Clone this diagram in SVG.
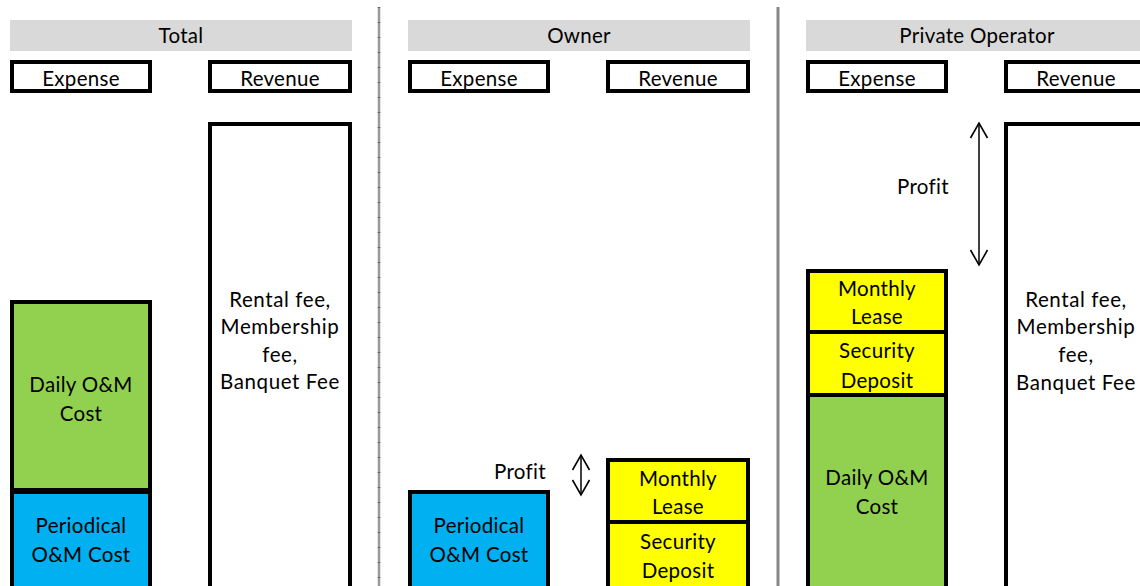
<svg xmlns="http://www.w3.org/2000/svg" width="1140" height="586" viewBox="0 0 1140 586">
<defs>
<style>
.hdr{fill:#d9d9d9}
.box{stroke:#000;stroke-width:4}
.w{fill:#fff}
.g{fill:#92d050}
.b{fill:#00b0f0}
.y{fill:#ffff00}
text{font-family:Lato,"Liberation Sans",sans-serif;font-size:20.5px;fill:#000;text-anchor:middle;letter-spacing:0.3px}
.h{font-size:20.5px}
.sp{letter-spacing:0.6px}
.arr{stroke:#000;stroke-width:1.5;fill:none;marker-start:url(#ah);marker-end:url(#ah)}
</style>
<marker id="ah" viewBox="0 0 18 20" refX="16" refY="10" markerWidth="18" markerHeight="20" markerUnits="userSpaceOnUse" orient="auto-start-reverse">
<path d="M1,1.5 L16,10 L1,18.5" fill="none" stroke="#000" stroke-width="1.6"/>
</marker>
</defs>
<g id="dividers">
<line x1="379" y1="7" x2="379" y2="586" stroke="#999" stroke-width="2.5"/>
<line x1="379" y1="7" x2="379" y2="586" stroke="#666" stroke-width="2.5" stroke-dasharray="1 14"/>
<line x1="778" y1="7" x2="778" y2="586" stroke="#888" stroke-width="3"/>
</g>
<g id="total">
<g id="total-header"><rect class="hdr" x="10" y="20" width="342" height="31"/><text class="h" x="181" y="43">Total</text></g>
<g id="total-expense-label"><rect class="box w" x="12" y="62" width="138" height="29"/><text x="81" y="86">Expense</text></g>
<g id="total-revenue-label"><rect class="box w" x="210" y="62" width="140" height="29"/><text x="280" y="86">Revenue</text></g>
<g id="total-daily"><rect class="box g" x="12" y="302" width="138" height="188"/><text x="81" y="392">Daily O&amp;M</text><text x="81" y="421">Cost</text></g>
<g id="total-periodical"><rect class="box b" x="12" y="492" width="138" height="100"/><text x="81" y="533">Periodical</text><text x="81" y="562">O&amp;M Cost</text></g>
<g id="total-revenue"><rect class="box w" x="210" y="124" width="140" height="470"/>
<text class="sp" x="280" y="307">Rental fee,</text><text class="sp" x="280" y="334">Membership</text><text class="sp" x="280" y="362">fee,</text><text class="sp" x="280" y="389">Banquet Fee</text></g>
</g>
<g id="owner">
<g id="owner-header"><rect class="hdr" x="408" y="20" width="342" height="31"/><text class="h" x="579" y="43">Owner</text></g>
<g id="owner-expense-label"><rect class="box w" x="410" y="62" width="138" height="29"/><text x="479" y="86">Expense</text></g>
<g id="owner-revenue-label"><rect class="box w" x="608" y="62" width="140" height="29"/><text x="678" y="86">Revenue</text></g>
<g id="owner-periodical"><rect class="box b" x="410" y="492" width="138" height="100"/><text x="479" y="533">Periodical</text><text x="479" y="562">O&amp;M Cost</text></g>
<g id="owner-lease"><rect class="box y" x="608" y="460" width="140" height="62"/><text x="678" y="486">Monthly</text><text x="678" y="514">Lease</text></g>
<g id="owner-deposit"><rect class="box y" x="608" y="522" width="140" height="70"/><text x="678" y="549">Security</text><text x="678" y="578">Deposit</text></g>
<g id="owner-profit"><text x="520" y="479">Profit</text></g>
</g>
<g id="operator">
<g id="operator-header"><rect class="hdr" x="806" y="20" width="342" height="31"/><text class="h" x="977" y="43">Private Operator</text></g>
<g id="operator-expense-label"><rect class="box w" x="808" y="62" width="138" height="29"/><text x="877" y="86">Expense</text></g>
<g id="operator-revenue-label"><rect class="box w" x="1006" y="62" width="140" height="29"/><text x="1076" y="86">Revenue</text></g>
<g id="operator-lease"><rect class="box y" x="808" y="271" width="138" height="61"/><text x="877" y="296">Monthly</text><text x="877" y="324">Lease</text></g>
<g id="operator-deposit"><rect class="box y" x="808" y="332" width="138" height="63"/><text x="877" y="358">Security</text><text x="877" y="388">Deposit</text></g>
<g id="operator-daily"><rect class="box g" x="808" y="395" width="138" height="197"/><text x="877" y="485">Daily O&amp;M</text><text x="877" y="514">Cost</text></g>
<g id="operator-revenue"><rect class="box w" x="1006" y="124" width="140" height="470"/>
<text class="sp" x="1076" y="307">Rental fee,</text><text class="sp" x="1076" y="334">Membership</text><text class="sp" x="1076" y="362">fee,</text><text class="sp" x="1076" y="390">Banquet Fee</text></g>
<g id="operator-profit"><text x="923" y="194">Profit</text></g>
</g>
<g id="connectors">
<line class="arr" x1="581" y1="455" x2="581" y2="495"/>
<line class="arr" x1="979" y1="123" x2="979" y2="265"/>
</g>
</svg>
